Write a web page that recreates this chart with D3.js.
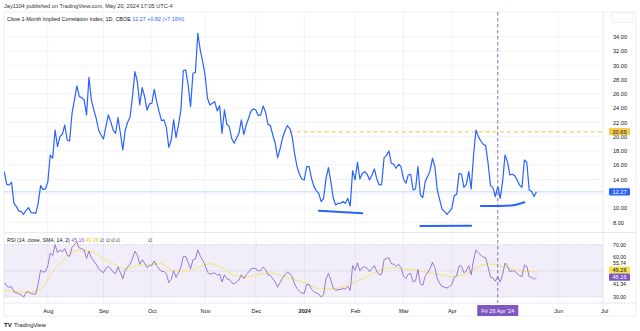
<!DOCTYPE html>
<html><head><meta charset="utf-8">
<script src="https://cdn.jsdelivr.net/npm/d3@7"></script>
<style>
body{margin:0;background:#fff;}
svg{display:block;font-family:"Liberation Sans",Arial,sans-serif;}
</style>
</head><body>
<svg id="chart" width="640" height="331"></svg>
<script>
// ---------------- data ----------------
// daily closes, one per trading day, starting Thu 6 Jul 2023 (day 0) to Mon 20 May 2024 (day 220)
const priceValues = [
15.10,13.32,13.23,13.60,10.66,10.20,9.59,9.50,9.12,9.68,
10.06,9.36,9.31,9.26,10.66,13.14,12.62,12.67,13.70,17.43,
16.97,20.93,18.60,20.00,20.33,21.63,19.53,19.39,23.27,25.14,
27.10,25.60,25.46,25.14,23.04,28.31,25.14,23.74,22.57,20.93,
20.23,19.67,21.40,23.04,22.10,20.93,20.47,22.66,20.47,18.13,
20.93,22.01,22.80,25.60,29.10,27.70,24.44,26.86,25.60,23.74,
24.58,24.67,26.63,24.90,23.50,22.24,22.34,21.26,18.51,19.53,
22.34,19.86,21.63,23.74,29.24,29.34,27.24,24.20,28.87,29.01,
34.47,32.14,30.50,28.64,25.37,24.44,24.67,24.90,23.60,24.34,
20.47,23.74,21.73,21.40,19.77,19.07,19.77,20.47,22.34,20.33,
21.63,22.57,23.60,23.88,23.74,22.94,23.04,24.30,23.41,21.73,
21.54,20.23,19.07,17.06,18.27,19.77,20.79,21.54,21.17,20.00,
17.67,15.80,14.77,14.07,13.93,15.80,15.80,14.16,13.00,12.44,
12.06,10.90,11.36,14.16,15.66,13.70,11.36,10.43,10.66,10.66,
10.90,10.66,11.36,10.29,15.24,13.93,16.41,14.07,14.86,15.10,
14.73,13.93,14.63,15.47,14.07,13.23,13.32,17.06,17.34,17.99,
16.27,16.13,15.57,16.13,15.80,14.07,13.46,14.63,14.73,12.53,
12.67,15.80,11.83,11.46,13.70,14.40,15.19,16.97,15.80,12.53,
11.13,9.82,9.50,9.12,9.50,9.96,11.74,11.92,14.86,14.73,
12.90,13.32,15.10,12.67,17.43,20.93,20.00,19.39,18.93,18.74,
16.27,13.14,12.86,11.60,13.04,11.36,13.70,17.43,16.50,14.63,
14.73,14.54,13.93,13.23,12.90,16.73,16.41,12.53,12.30,11.60,
12.27
];
const rsiValues = [
41,38.4,37.5,37.8,34,33.3,32.4,31.8,29.8,33.5,
34,32.6,32.4,32.2,40,50.6,49,49.5,54,63.6,
61.8,70,63.8,66,64.5,67,62,61,68,70,
72,67.5,67,66,59.5,65,60,57.5,55,51.5,
50,48.5,52,53.5,51.5,49,48,53,48.5,44,
50.5,53,55,59.5,65,62,55,58.5,56,52.5,
54,54.3,57.5,54,51.5,49.5,49.7,47.5,41,43.5,
50,45,48.5,52.5,61,61,56.5,51.5,58.5,59,
66,61.5,58,54.5,49,47.5,48,48.5,46.5,47.7,
41.5,47,44,43.5,41,40,41.5,43,47,44,
47,49,51.5,52,51.7,50,50.2,53,51,47,
46.5,44,41.5,37.5,41,44.5,47,49,48,45.5,
40,36.5,34.5,33,32.8,39.5,39.5,36,34,33,
32.2,30,32,44,48,43,37,35,35.7,35.7,
36.5,36,38,35,54,50.5,56,50,52.5,53,
52,49.5,52,54,49.5,47,47.5,58.5,59.5,60,
55.5,55,53.5,55,52.5,46,44,47.5,47.8,41.5,
42.3,51,40,39,46,48.5,51.5,56.5,52.5,44,
40.5,38,37.5,36.8,38,39.5,45,46,54,53.5,
48.5,50,54,47,58.5,66,63.5,62,60.5,60,
53,45,44.5,42,45.5,41.5,47,56,53.5,49.5,
50,49.5,48,46.5,45.5,54.5,53.5,45.5,45,43.5,
45.16
];
// SMA(14) of RSI, read every 5th trading day (day 0,5,...,220)
const rsiSmaStep = 5;
const rsiSmaValues = [
35.0,34.0,33.7,36.0,49.5,59.0,65.5,65.2,60.5,55.5,
51.5,54.0,54.8,55.5,50.0,50.0,52.5,55.5,52.5,46.5,
45.3,47.2,48.3,46.3,43.2,40.4,36.3,36.2,37.6,41.5,
45.7,50.0,52.5,51.4,50.6,48.6,47.2,45.7,47.0,52.0,
55.4,53.6,51.4,49.8,49.26
];
const monthLabels = ["Aug","Sep","Oct","Nov","Dec","2024","Feb","Mar","Apr","Jun","Jul"];
const monthDays   = [18,41,61,83,104,124,145,165,185,229,248];
const priceGrid = [8,10,12,14,16,18,20,22,24,26,28,30,32,34];
const priceTickLabels = [8,10,14,16,18,20,22,24,26,28,30,32,34]; // 12.00 sits under the last-price box
const rsiTicks = [70,60,30];
const rsiBandLevels = [70,50,30];
const lastPrice = 12.27, horizontalRay = 20.69, rayStartDay = 118;
const crosshairDay = 204, crosshairLabel = "Fri 26 Apr '24";
const lastRsi = 45.16, lastSma = 49.26, bbUpper = 55.74, bbLower = 41.34;
// hand-drawn support strokes (trading day, value)
const supportLines = [
  [[130,9.63],[148,9.27]],
  [[172,7.49],[193,7.53]],
  [[197,10.29],[205,10.29],[211,10.43],[215,10.81]]
];

// ---------------- layout ----------------
const svg = d3.select("#chart");
const L = 4, R = 603, mainTop = 12, mainBot = 232, rsiTop = 233, rsiBot = 303, axisBot = 316;
const x = d3.scaleLinear().domain([0, 248]).range([4.3, 604.2]);
const y = d3.scaleLinear().domain([8, 34]).range([222.3, 36.7]);
const yr = d3.scaleLinear().domain([30, 70]).range([297, 244.7]);
const gridC = "#f0f3fa", textC = "#131722", blue = "#2962ff", purple = "#7e57c2";

svg.append("text").attr("x", 4).attr("y", 8).attr("font-size", 5.6).attr("fill", "#333")
  .text("Jay1104 published on TradingView.com, May 20, 2024 17:05 UTC-4");

// frame
svg.append("rect").attr("x", L).attr("y", mainTop).attr("width", 636 - L).attr("height", axisBot - mainTop)
  .attr("fill", "none").attr("stroke", "#e0e3eb").attr("stroke-width", 0.6);

const defs = svg.append("defs");
defs.append("clipPath").attr("id", "clipMain").append("rect")
  .attr("x", L).attr("y", mainTop).attr("width", R - L).attr("height", mainBot - mainTop);
defs.append("clipPath").attr("id", "clipRsi").append("rect")
  .attr("x", L).attr("y", rsiTop).attr("width", R - L).attr("height", rsiBot - rsiTop);

// grid
const grid = svg.append("g");
grid.selectAll(".v").data(monthDays.filter(d => x(d) < R)).join("line")
  .attr("x1", d => x(d)).attr("x2", d => x(d)).attr("y1", mainTop).attr("y2", rsiBot)
  .attr("stroke", gridC).attr("stroke-width", 1);
grid.selectAll(".h").data(priceGrid).join("line")
  .attr("x1", L).attr("x2", R).attr("y1", d => y(d)).attr("y2", d => y(d))
  .attr("stroke", gridC).attr("stroke-width", 1);

// separators
svg.append("line").attr("x1", L).attr("x2", 636).attr("y1", rsiTop - 0.5).attr("y2", rsiTop - 0.5)
  .attr("stroke", "#e0e3eb").attr("stroke-width", 0.8);
svg.append("line").attr("x1", R).attr("x2", R).attr("y1", mainTop).attr("y2", axisBot)
  .attr("stroke", "#e0e3eb").attr("stroke-width", 0.8);
svg.append("line").attr("x1", L).attr("x2", 636).attr("y1", rsiBot).attr("y2", rsiBot)
  .attr("stroke", "#e0e3eb").attr("stroke-width", 0.8);

// ---------------- main pane ----------------
const main = svg.append("g").attr("clip-path", "url(#clipMain)");
main.append("line").attr("x1", L).attr("x2", R).attr("y1", y(lastPrice)).attr("y2", y(lastPrice))
  .attr("stroke", blue).attr("stroke-opacity", 0.25).attr("stroke-width", 1);
main.append("line").attr("x1", x(rayStartDay)).attr("x2", R).attr("y1", y(horizontalRay)).attr("y2", y(horizontalRay))
  .attr("stroke", "#ffd37a").attr("stroke-width", 1.4).attr("stroke-dasharray", "4,3");
main.append("path").datum(priceValues)
  .attr("d", d3.line().x((d, i) => x(i)).y(d => y(d)))
  .attr("fill", "none").attr("stroke", blue).attr("stroke-width", 1.2).attr("stroke-linejoin", "round");
supportLines.forEach(s => {
  main.append("path").datum(s)
    .attr("d", d3.line().x(d => x(d[0])).y(d => y(d[1])).curve(d3.curveMonotoneX))
    .attr("fill", "none").attr("stroke", blue).attr("stroke-width", 2).attr("stroke-linecap", "round");
});

// legend
const lg = svg.append("text").attr("x", 7).attr("y", 20.5).attr("font-size", 5.4);
lg.append("tspan").attr("fill", textC).text("Cboe 1-Month Implied Correlation Index, 1D, CBOE ");
lg.append("tspan").attr("fill", blue).text(" 12.27  +0.82 (+7.16%)");

// price axis
const pAxis = svg.append("g").attr("transform", `translate(${R},0)`)
  .call(d3.axisRight(y).tickValues(priceTickLabels).tickFormat(d3.format(".2f")).tickSize(0).tickPadding(10));
pAxis.select(".domain").remove();
pAxis.selectAll("text").attr("font-size", 5.6).attr("fill", textC).attr("font-family", "Liberation Sans, Arial");

function valueBox(g, yy, fill, txtFill, label) {
  g.append("rect").attr("x", 609).attr("y", yy - 3.6).attr("width", 21).attr("height", 7.2).attr("fill", fill).attr("rx", 0.8);
  g.append("text").attr("x", 619.5).attr("y", yy + 2).attr("text-anchor", "middle").attr("font-size", 5.6)
    .attr("fill", txtFill).text(label);
}
valueBox(svg, y(horizontalRay), "#f9c94e", textC, d3.format(".2f")(horizontalRay));
valueBox(svg, y(lastPrice), blue, "#fff", d3.format(".2f")(lastPrice));

// top right scale button
svg.append("rect").attr("x", 612).attr("y", 12.5).attr("width", 21).attr("height", 10).attr("fill", "#fff")
  .attr("stroke", "#e0e3eb").attr("stroke-width", 0.6).attr("rx", 1);

// ---------------- RSI pane ----------------
const rsiG = svg.append("g").attr("clip-path", "url(#clipRsi)");
rsiG.append("rect").attr("x", L).attr("width", R - L).attr("y", yr(70)).attr("height", yr(30) - yr(70))
  .attr("fill", purple).attr("fill-opacity", 0.1);
rsiG.selectAll(".band").data(rsiBandLevels).join("line")
  .attr("x1", L).attr("x2", R).attr("y1", d => yr(d)).attr("y2", d => yr(d))
  .attr("stroke", "#9598a1").attr("stroke-opacity", 0.6).attr("stroke-width", 0.7).attr("stroke-dasharray", "1.2,1.6");
rsiG.append("path").datum(rsiSmaValues)
  .attr("d", d3.line().x((d, i) => x(i * rsiSmaStep)).y(d => yr(d)).curve(d3.curveMonotoneX))
  .attr("fill", "none").attr("stroke", "#f7e46d").attr("stroke-width", 1);
rsiG.append("path").datum(rsiValues)
  .attr("d", d3.line().x((d, i) => x(i)).y(d => yr(d)))
  .attr("fill", "none").attr("stroke", purple).attr("stroke-opacity", 0.85).attr("stroke-width", 0.9);

const rl = svg.append("text").attr("x", 7).attr("y", 242.3).attr("font-size", 5.2);
rl.append("tspan").attr("fill", textC).text("RSI (14, close, SMA, 14, 2) ");
rl.append("tspan").attr("fill", purple).text(" 45.16 ");
rl.append("tspan").attr("fill", "#e8c22a").text(" 49.26 ");
rl.append("tspan").attr("fill", textC).text("  ∅  ∅  ∅  ∅");
svg.append("text").attr("x", 148).attr("y", 242.3).attr("font-size", 5.2).attr("fill", textC).text("∅");

const rAxis = svg.append("g").attr("transform", `translate(${R},0)`)
  .call(d3.axisRight(yr).tickValues(rsiTicks).tickFormat(d3.format(".2f")).tickSize(0).tickPadding(10));
rAxis.select(".domain").remove();
rAxis.selectAll("text").attr("font-size", 5.2).attr("fill", textC).attr("font-family", "Liberation Sans, Arial");
rAxis.selectAll(".tick").filter(d => d === 60).select("text").attr("dy", "0.1em");
svg.append("text").attr("x", 613).attr("y", yr(bbUpper) + 2).attr("font-size", 5.2).attr("fill", textC).text(bbUpper.toFixed(2));
svg.append("text").attr("x", 613).attr("y", yr(bbLower) + 3.5).attr("font-size", 5.2).attr("fill", textC).text(bbLower.toFixed(2));
valueBox(svg, yr(lastSma) - 1.8, "#f7e14d", textC, lastSma.toFixed(2));
valueBox(svg, yr(lastRsi), purple, "#fff", lastRsi.toFixed(2));

// ---------------- crosshair ----------------
svg.append("line").attr("x1", x(crosshairDay)).attr("x2", x(crosshairDay)).attr("y1", mainTop).attr("y2", rsiBot)
  .attr("stroke", purple).attr("stroke-width", 0.9).attr("stroke-dasharray", "3.5,2.5");

// ---------------- time axis ----------------
const tAxis = svg.append("g").attr("transform", `translate(0,${rsiBot})`)
  .call(d3.axisBottom(x).tickValues(monthDays).tickFormat((d, i) => monthLabels[i]).tickSize(0).tickPadding(6));
tAxis.select(".domain").remove();
tAxis.selectAll("text").attr("font-size", 5.6).attr("fill", textC).attr("font-family", "Liberation Sans, Arial")
  .attr("font-weight", (d, i) => monthLabels[i] === "2024" ? "bold" : "normal");
svg.append("rect").attr("x", x(crosshairDay) - 20.5).attr("y", 305).attr("width", 41).attr("height", 11).attr("fill", purple);
svg.append("text").attr("x", x(crosshairDay)).attr("y", 312.6).attr("text-anchor", "middle").attr("font-size", 5.6)
  .attr("fill", "#fff").text(crosshairLabel);

// TradingView mark
svg.append("text").attr("x", 4).attr("y", 326.5).attr("font-size", 6.2).attr("font-weight", "bold").attr("fill", textC).text("TV");
svg.append("text").attr("x", 14).attr("y", 326.5).attr("font-size", 5.8).attr("fill", textC).text("TradingView");
</script>
</body></html>
